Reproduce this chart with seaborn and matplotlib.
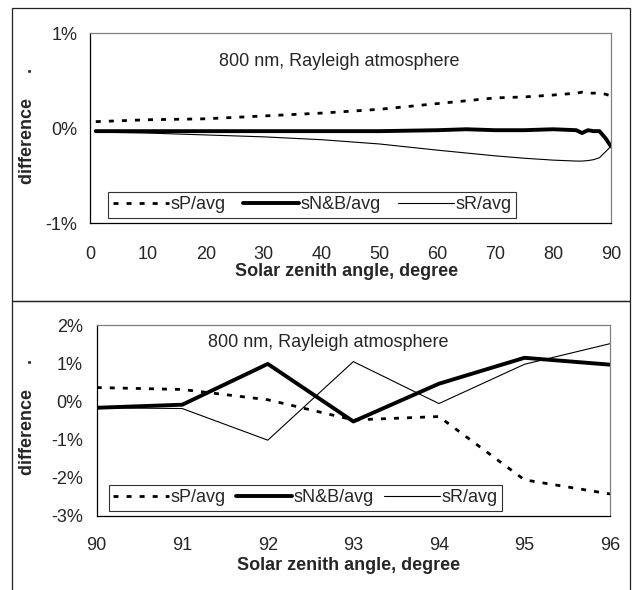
import numpy as np
import pandas as pd
import matplotlib
matplotlib.use("Agg")
import matplotlib.pyplot as plt
import seaborn as sns
from matplotlib.ticker import FuncFormatter, MultipleLocator
from matplotlib.patches import Rectangle

# top panel: 0-90 degree
angle_top = [1, 10, 20, 30, 40, 50, 60, 65, 70, 75, 80, 84, 85, 86, 87, 88, 89, 90]
sP_top = [0.07, 0.09, 0.10, 0.13, 0.16, 0.20, 0.26, 0.29, 0.32, 0.33, 0.35, 0.37,
          0.38, 0.37, 0.37, 0.37, 0.36, 0.34]
sNB_top = [-0.03, -0.03, -0.03, -0.03, -0.03, -0.03, -0.02, -0.01, -0.02, -0.02, -0.01,
           -0.02, -0.05, -0.02, -0.03, -0.03, -0.10, -0.19]
sR_top = [-0.04, -0.05, -0.07, -0.09, -0.12, -0.165, -0.23, -0.26, -0.29, -0.315, -0.335,
          -0.345, -0.345, -0.34, -0.33, -0.31, -0.25, -0.19]

# bottom panel: 90-96 degree
angle_bot = [90, 91, 92, 93, 94, 95, 96]
sP_bot = [0.36, 0.31, 0.04, -0.49, -0.40, -2.06, -2.43]
sNB_bot = [-0.17, -0.09, 0.98, -0.53, 0.46, 1.14, 0.96]
sR_bot = [-0.17, -0.19, -1.02, 1.04, -0.06, 0.97, 1.51]

series_names = ["sP/avg", "sN&B/avg", "sR/avg"]
note = "800 nm, Rayleigh atmosphere"
x_title = "Solar zenith angle, degree"
y_title = "difference     ."

sns.set_style("white")
plt.rcParams["font.family"] = ["Liberation Sans", "DejaVu Sans"]
FS = 13

fig = plt.figure(figsize=(6.33, 5.9), dpi=100)

# outer frames of the two charts (pixel coords -> figure fraction)
W, H = 633, 590
for (x0, y0, x1, y1) in [(12, 8, 629.5, 301), (12, 301, 629.5, 600)]:
    fig.add_artist(Rectangle((x0 / W, 1 - y1 / H), (x1 - x0) / W, (y1 - y0) / H,
                             transform=fig.transFigure, fill=False,
                             edgecolor="#222222", linewidth=0.9))

ax1 = fig.add_axes([90 / W, 1 - 223.3 / H, 521 / W, 190 / H])
ax2 = fig.add_axes([96.7 / W, 1 - 515.7 / H, 513.3 / W, 190.7 / H])

styles = [
    dict(linewidth=2.0, linestyle=(0, (1.8, 2.9))),
    dict(linewidth=2.8, linestyle="-"),
    dict(linewidth=0.8, linestyle="-"),
]


def draw(ax, x, ys):
    for name, y, st in zip(series_names, ys, styles):
        df = pd.DataFrame({"angle": x, "diff": y})
        sns.lineplot(data=df, x="angle", y="diff", ax=ax, color="black",
                     label=name, **st)


draw(ax1, angle_top, [sP_top, sNB_top, sR_top])
draw(ax2, angle_bot, [sP_bot, sNB_bot, sR_bot])

pct = FuncFormatter(lambda v, p: f"{v:.0f}%")

# top axes
ax1.set_xlim(0, 90)
ax1.set_ylim(-1, 1)
ax1.xaxis.set_major_locator(MultipleLocator(10))
ax1.yaxis.set_major_locator(MultipleLocator(1))
ax1.yaxis.set_major_formatter(pct)
ax1.tick_params(axis="x", direction="inout", length=7, width=0.8, pad=13, labelsize=FS)
ax1.tick_params(axis="y", direction="inout", length=7, width=0.8, pad=5.5, labelsize=FS)

# bottom axes
ax2.set_xlim(90, 96)
ax2.set_ylim(-3, 2)
ax2.xaxis.set_major_locator(MultipleLocator(1))
ax2.yaxis.set_major_locator(MultipleLocator(1))
ax2.yaxis.set_major_formatter(pct)
ax2.tick_params(axis="x", direction="out", length=5, width=0.8, pad=10, labelsize=FS)
ax2.tick_params(axis="y", direction="out", length=5, width=0.8, pad=5, labelsize=FS)

legend_boxes = [(0.035, 0.03, 0.783, 0.136), (0.023, 0.026, 0.767, 0.164)]
text_pos = [(0.478, 0.85), (0.451, 0.91)]
ylab_pos = [(-0.104, 0.51), (-0.119, 0.52)]
xlab_pos = [(0.493, -0.21), (0.49, -0.215)]

for ax, lb, tp, yp, xp in zip([ax1, ax2], legend_boxes, text_pos, ylab_pos, xlab_pos):
    for s in ["left", "bottom"]:
        ax.spines[s].set_color("black")
        ax.spines[s].set_linewidth(0.9)
    for s in ["top", "right"]:
        ax.spines[s].set_color("#808080")
        ax.spines[s].set_linewidth(0.9)
    ax.set_xlabel(x_title, fontsize=FS, fontweight="bold")
    ax.set_ylabel(y_title, fontsize=FS, fontweight="bold")
    ax.xaxis.set_label_coords(*xp)
    ax.yaxis.set_label_coords(*yp)
    ax.text(tp[0], tp[1], note, transform=ax.transAxes, ha="center", va="center",
            fontsize=FS)
    leg = ax.legend(loc="lower left", bbox_to_anchor=lb, mode="expand", ncol=3,
                    fontsize=FS, frameon=True, fancybox=False, framealpha=1,
                    edgecolor="#333333", handlelength=3.1, handletextpad=0.1,
                    columnspacing=0.5, borderpad=0.25, borderaxespad=0)
    leg.get_frame().set_linewidth(0.8)

fig.savefig("out.png", dpi=100)
